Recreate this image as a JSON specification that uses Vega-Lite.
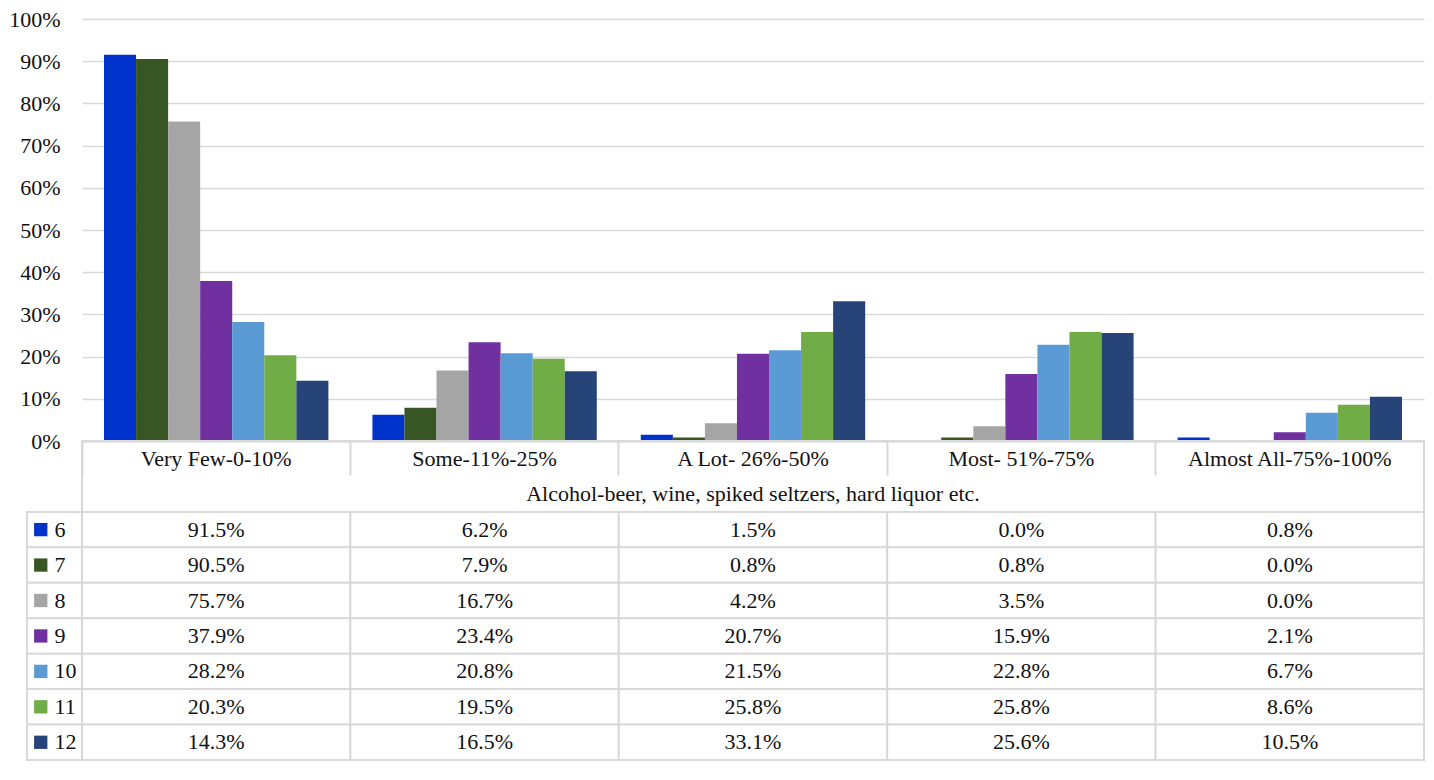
{
  "$schema": "https://vega.github.io/schema/vega-lite/v6.json",
  "background": "white",
  "padding": {"left": 8, "top": 8, "right": 0, "bottom": 0},
  "config": {
    "view": {"stroke": null},
    "font": "Liberation Serif",
    "text": {"font": "Liberation Serif", "fontSize": 22, "color": "#111111"},
    "axis": {"labelFont": "Liberation Serif"}
  },
  "datasets": {
    "shares": [
      {"category": "Very Few-0-10%", "grade": "6", "value": 0.915},
      {"category": "Very Few-0-10%", "grade": "7", "value": 0.905},
      {"category": "Very Few-0-10%", "grade": "8", "value": 0.757},
      {"category": "Very Few-0-10%", "grade": "9", "value": 0.379},
      {"category": "Very Few-0-10%", "grade": "10", "value": 0.282},
      {"category": "Very Few-0-10%", "grade": "11", "value": 0.203},
      {"category": "Very Few-0-10%", "grade": "12", "value": 0.143},
      {"category": "Some-11%-25%", "grade": "6", "value": 0.062},
      {"category": "Some-11%-25%", "grade": "7", "value": 0.079},
      {"category": "Some-11%-25%", "grade": "8", "value": 0.167},
      {"category": "Some-11%-25%", "grade": "9", "value": 0.234},
      {"category": "Some-11%-25%", "grade": "10", "value": 0.208},
      {"category": "Some-11%-25%", "grade": "11", "value": 0.195},
      {"category": "Some-11%-25%", "grade": "12", "value": 0.165},
      {"category": "A Lot- 26%-50%", "grade": "6", "value": 0.015},
      {"category": "A Lot- 26%-50%", "grade": "7", "value": 0.008},
      {"category": "A Lot- 26%-50%", "grade": "8", "value": 0.042},
      {"category": "A Lot- 26%-50%", "grade": "9", "value": 0.207},
      {"category": "A Lot- 26%-50%", "grade": "10", "value": 0.215},
      {"category": "A Lot- 26%-50%", "grade": "11", "value": 0.258},
      {"category": "A Lot- 26%-50%", "grade": "12", "value": 0.331},
      {"category": "Most- 51%-75%", "grade": "6", "value": 0.0},
      {"category": "Most- 51%-75%", "grade": "7", "value": 0.008},
      {"category": "Most- 51%-75%", "grade": "8", "value": 0.035},
      {"category": "Most- 51%-75%", "grade": "9", "value": 0.159},
      {"category": "Most- 51%-75%", "grade": "10", "value": 0.228},
      {"category": "Most- 51%-75%", "grade": "11", "value": 0.258},
      {"category": "Most- 51%-75%", "grade": "12", "value": 0.256},
      {"category": "Almost All-75%-100%", "grade": "6", "value": 0.008},
      {"category": "Almost All-75%-100%", "grade": "7", "value": 0.0},
      {"category": "Almost All-75%-100%", "grade": "8", "value": 0.0},
      {"category": "Almost All-75%-100%", "grade": "9", "value": 0.021},
      {"category": "Almost All-75%-100%", "grade": "10", "value": 0.067},
      {"category": "Almost All-75%-100%", "grade": "11", "value": 0.086},
      {"category": "Almost All-75%-100%", "grade": "12", "value": 0.105}
    ],
    "caption": [
      {"label": "Alcohol-beer, wine, spiked seltzers, hard liquor etc."}
    ]
  },
  "columns": 2,
  "spacing": 0,
  "bounds": "flush",
  "resolve": {"scale": {"x": "independent", "y": "independent", "color": "shared"}},
  "concat": [
    {
      "width": 55,
      "height": 422,
      "data": {"name": "caption"},
      "mark": {"type": "point", "opacity": 0},
      "encoding": {}
    },
    {
      "width": 1342,
      "height": 422,
      "data": {"name": "shares"},
      "mark": {"type": "bar"},
      "encoding": {
        "x": {
          "field": "category",
          "type": "nominal",
          "sort": ["Very Few-0-10%", "Some-11%-25%", "A Lot- 26%-50%", "Most- 51%-75%", "Almost All-75%-100%"],
          "scale": {"paddingInner": 0.164, "paddingOuter": 0.082},
          "axis": {
            "title": null,
            "labels": false,
            "grid": false,
            "bandPosition": -0.098086,
            "tickSize": 34,
            "tickColor": "#d9d9d9",
            "tickWidth": 2,
            "domainColor": "#d9d9d9",
            "domainWidth": 2
          }
        },
        "xOffset": {
          "field": "grade",
          "type": "nominal",
          "scale": {"domain": ["6", "7", "8", "9", "10", "11", "12"], "paddingInner": 0, "paddingOuter": 0}
        },
        "y": {
          "field": "value",
          "type": "quantitative",
          "scale": {"domain": [0, 1], "nice": false},
          "axis": {
            "title": null,
            "values": [0, 0.1, 0.2, 0.3, 0.4, 0.5, 0.6, 0.7, 0.8, 0.9, 1],
            "format": ".0%",
            "domain": false,
            "ticks": false,
            "labelPadding": 22,
            "labelFontSize": 22,
            "labelColor": "#111111",
            "gridColor": "#d9d9d9",
            "gridWidth": 1.5
          }
        },
        "color": {
          "field": "grade",
          "type": "nominal",
          "scale": {
            "domain": ["6", "7", "8", "9", "10", "11", "12"],
            "range": ["#0033cc", "#375623", "#a5a5a5", "#7030a0", "#5b9bd5", "#70ad47", "#264478"]
          },
          "legend": null
        }
      }
    },
    {
      "width": 55,
      "height": 319,
      "data": {"name": "shares"},
      "transform": [{"filter": "datum.category === 'Very Few-0-10%'"}],
      "layer": [
        {
          "mark": {"type": "bar", "fill": "white", "stroke": "#d9d9d9", "strokeWidth": 2},
          "encoding": {
            "y": {
              "field": "grade",
              "type": "nominal",
              "scale": {"domain": ["hdr", "title", "6", "7", "8", "9", "10", "11", "12"], "paddingInner": 0, "paddingOuter": 0},
              "axis": null
            }
          }
        },
        {
          "mark": {"type": "point", "shape": "square", "filled": true, "size": 177, "opacity": 1},
          "encoding": {
            "x": {
              "datum": "key",
              "type": "nominal",
              "scale": {"type": "point", "domain": ["key", "num", "rest"], "padding": 1.371},
              "axis": null
            },
            "y": {"field": "grade", "type": "nominal"},
            "color": {"field": "grade", "type": "nominal", "legend": null}
          }
        },
        {
          "mark": {"type": "text", "align": "left"},
          "encoding": {
            "x": {"datum": "num", "type": "nominal"},
            "y": {"field": "grade", "type": "nominal"},
            "text": {"field": "grade", "type": "nominal"}
          }
        }
      ]
    },
    {
      "width": 1342,
      "height": 319,
      "view": {"stroke": "#d9d9d9", "strokeWidth": 2},
      "data": {"name": "shares"},
      "layer": [
        {
          "mark": {"type": "rect", "fill": "white", "stroke": "#d9d9d9", "strokeWidth": 2},
          "encoding": {
            "x": {
              "field": "category",
              "type": "nominal",
              "sort": ["Very Few-0-10%", "Some-11%-25%", "A Lot- 26%-50%", "Most- 51%-75%", "Almost All-75%-100%"],
              "scale": {"paddingInner": 0, "paddingOuter": 0},
              "axis": null
            },
            "y": {
              "field": "grade",
              "type": "nominal",
              "scale": {"domain": ["hdr", "title", "6", "7", "8", "9", "10", "11", "12"], "paddingInner": 0, "paddingOuter": 0},
              "axis": null
            }
          }
        },
        {
          "mark": {"type": "text"},
          "encoding": {
            "x": {"field": "category", "type": "nominal", "sort": ["Very Few-0-10%", "Some-11%-25%", "A Lot- 26%-50%", "Most- 51%-75%", "Almost All-75%-100%"]},
            "y": {"field": "grade", "type": "nominal"},
            "text": {"field": "value", "type": "quantitative", "format": ".1%"}
          }
        },
        {
          "transform": [{"filter": "datum.grade === '6'"}],
          "mark": {"type": "text"},
          "encoding": {
            "x": {"field": "category", "type": "nominal", "sort": ["Very Few-0-10%", "Some-11%-25%", "A Lot- 26%-50%", "Most- 51%-75%", "Almost All-75%-100%"]},
            "y": {"datum": "hdr", "type": "nominal"},
            "text": {"field": "category", "type": "nominal"}
          }
        },
        {
          "data": {"name": "caption"},
          "mark": {"type": "text", "fontSize": 22},
          "encoding": {
            "y": {"datum": "title", "type": "nominal"},
            "text": {"field": "label", "type": "nominal"}
          }
        }
      ]
    }
  ]
}
